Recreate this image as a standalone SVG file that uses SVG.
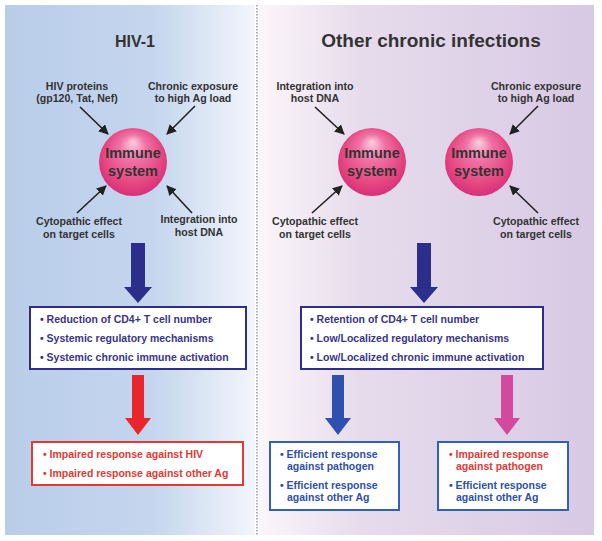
<svg xmlns="http://www.w3.org/2000/svg" width="602" height="541" viewBox="0 0 602 541">
<defs>
<linearGradient id="bgL" x1="0" y1="0" x2="1" y2="0">
<stop offset="0" stop-color="#b9cde9"/>
<stop offset="0.6" stop-color="#c5d6ee"/>
<stop offset="1" stop-color="#f3f6fc"/>
</linearGradient>
<linearGradient id="bgR" x1="0" y1="0" x2="1" y2="0">
<stop offset="0" stop-color="#fbf6fa"/>
<stop offset="0.3" stop-color="#e6dcec"/>
<stop offset="1" stop-color="#d8c9e4"/>
</linearGradient>
<radialGradient id="sph" cx="0.5" cy="0.45" r="0.55" fx="0.5" fy="0.2">
<stop offset="0" stop-color="#fbd0e0"/>
<stop offset="0.35" stop-color="#f072a4"/>
<stop offset="0.8" stop-color="#e4447f"/>
<stop offset="1" stop-color="#d8307a"/>
</radialGradient>
<marker id="ah" viewBox="0 0 10 10" refX="9" refY="5" markerWidth="10" markerHeight="10" markerUnits="userSpaceOnUse" orient="auto">
<path d="M0,0 L10,5 L0,10 z" fill="#222"/>
</marker>
</defs>
<style>
text{font-family:"Liberation Sans",Arial,sans-serif;font-weight:bold}
.lab{font-size:10.6px;fill:#333;text-anchor:middle}
.title{fill:#333;text-anchor:middle}
.sph{font-size:14.5px;fill:#333;text-anchor:middle}
.thin{stroke:#222;stroke-width:1.6;fill:none;marker-end:url(#ah)}
.b1{fill:#3a3488;font-size:10.5px}
.red{fill:#e03a34;font-size:10.5px}
.blu{fill:#2f4fa8;font-size:10.5px}
</style>
<rect x="5" y="5" width="250" height="530" fill="url(#bgL)"/>
<rect x="259" y="5" width="335" height="530" fill="url(#bgR)"/>
<line x1="257" y1="5" x2="257" y2="535" stroke="#666" stroke-width="1" stroke-dasharray="1.5,1.5"/>
<text class="title" x="135" y="47" font-size="16">HIV-1</text>
<text class="title" x="431" y="47" font-size="19">Other chronic infections</text>

<g id="labels">
<text class="lab" x="77" y="90">HIV proteins</text>
<text class="lab" x="77" y="102">(gp120, Tat, Nef)</text>
<text class="lab" x="193" y="90">Chronic exposure</text>
<text class="lab" x="193" y="102">to high Ag load</text>
<text class="lab" x="79" y="225">Cytopathic effect</text>
<text class="lab" x="79" y="238">on target cells</text>
<text class="lab" x="199" y="223">Integration into</text>
<text class="lab" x="199" y="236">host DNA</text>
<text class="lab" x="315" y="90">Integration into</text>
<text class="lab" x="315" y="102">host DNA</text>
<text class="lab" x="315" y="225">Cytopathic effect</text>
<text class="lab" x="315" y="238">on target cells</text>
<text class="lab" x="536" y="90">Chronic exposure</text>
<text class="lab" x="536" y="102">to high Ag load</text>
<text class="lab" x="536" y="225">Cytopathic effect</text>
<text class="lab" x="536" y="238">on target cells</text>
</g>

<g id="sphere-hiv">
<circle cx="133" cy="162" r="34" fill="url(#sph)"/>
<text class="sph" x="133" y="158">Immune</text>
<text class="sph" x="133" y="176">system</text>
</g>
<g id="sphere-other1">
<circle cx="372" cy="162" r="34" fill="url(#sph)"/>
<text class="sph" x="372" y="158">Immune</text>
<text class="sph" x="372" y="176">system</text>
</g>
<g id="sphere-other2">
<circle cx="479" cy="162" r="34" fill="url(#sph)"/>
<text class="sph" x="479" y="158">Immune</text>
<text class="sph" x="479" y="176">system</text>
</g>

<g id="box-hiv">
<rect x="30" y="307" width="216" height="62" fill="#fff" stroke="#2e2e88" stroke-width="2"/>
<text class="b1" x="40" y="323">• Reduction of CD4+ T cell number</text>
<text class="b1" x="40" y="342">• Systemic regulatory mechanisms</text>
<text class="b1" x="40" y="361">• Systemic chronic immune activation</text>
</g>
<g id="box-other">
<rect x="301" y="307" width="242" height="62" fill="#fff" stroke="#2e2e88" stroke-width="2"/>
<text class="b1" x="310" y="323">• Retention of CD4+ T cell number</text>
<text class="b1" x="310" y="342">• Low/Localized regulatory mechanisms</text>
<text class="b1" x="310" y="361">• Low/Localized chronic immune activation</text>
</g>
<g id="box-hiv-out">
<rect x="32" y="442" width="211" height="43" fill="#fff" stroke="#e03a34" stroke-width="2"/>
<text class="red" x="43" y="458">• Impaired response against HIV</text>
<text class="red" x="43" y="477">• Impaired response against other Ag</text>
</g>
<g id="box-other-out1">
<rect x="270" y="442" width="129" height="68" fill="#fff" stroke="#3060b8" stroke-width="2"/>
<text class="blu" x="280" y="458">• Efficient response</text>
<text class="blu" x="287" y="470">against pathogen</text>
<text class="blu" x="280" y="489">• Efficient response</text>
<text class="blu" x="287" y="501">against other Ag</text>
</g>
<g id="box-other-out2">
<rect x="438" y="442" width="130" height="68" fill="#fff" stroke="#3060b8" stroke-width="2"/>
<text class="red" x="449" y="458">• Impaired response</text>
<text class="red" x="456" y="470">against pathogen</text>
<text class="blu" x="449" y="489">• Efficient response</text>
<text class="blu" x="456" y="501">against other Ag</text>
</g>

<g id="connectors">
<line class="thin" x1="80" y1="107" x2="108" y2="134"/>
<line class="thin" x1="195" y1="106" x2="167" y2="134"/>
<line class="thin" x1="77" y1="213" x2="106" y2="186"/>
<line class="thin" x1="192" y1="213" x2="167" y2="186"/>
<line class="thin" x1="315" y1="107" x2="344" y2="134"/>
<line class="thin" x1="312" y1="213" x2="342" y2="186"/>
<line class="thin" x1="538" y1="106" x2="510" y2="134"/>
<line class="thin" x1="538" y1="213" x2="510" y2="186"/>
<path d="M131,243 H145 V287 H152 L138,303 L124,287 H131 Z" fill="#2b2e8a"/>
<path d="M417,243 H431 V287 H438 L424,303 L410,287 H417 Z" fill="#2b2e8a"/>
<path d="M132,375 H144 V418 H151 L138,435 L125,418 H132 Z" fill="#e8262b"/>
<path d="M332,375 H344 V418 H351 L338,435 L325,418 H332 Z" fill="#3050b0"/>
<path d="M501,375 H513 V418 H520 L507,435 L494,418 H501 Z" fill="#d24a9e"/>
</g>
</svg>
